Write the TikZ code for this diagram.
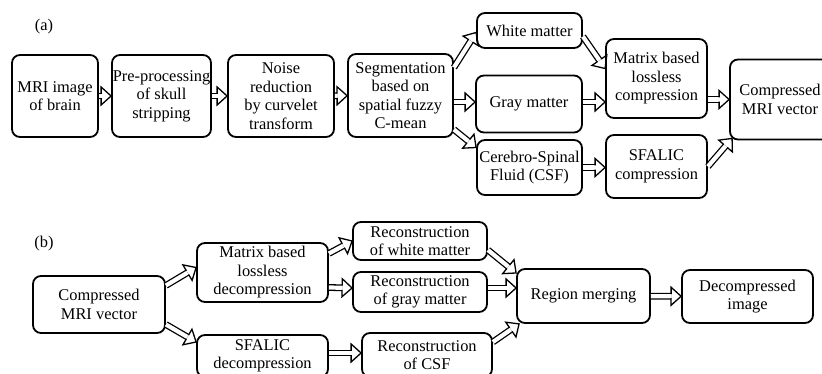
\documentclass[tikz,border=0pt]{standalone}
\usepackage{fontspec}
\setmainfont{Liberation Serif}
\usetikzlibrary{decorations.markings}
\tikzset{
    RB/.style ={rectangle,rounded corners=8pt,draw,line width=1.8pt,align=center,inner sep=0pt,font=\fontsize{16.4}{18.5}\selectfont},
    DA/.style ={draw,line width=6.8pt,shorten >=10pt,
        postaction={draw=white,line width=4.2pt,shorten >=10pt},
        postaction={decorate,decoration={markings,mark=at position 1 with
            {\draw[line width=1.3pt,line join=miter,shorten >=0pt,shorten <=0pt]
                (-10pt,2.2pt) -- (-10pt,9pt) -- (0pt,0pt) -- (-10pt,-9pt) -- (-10pt,-2.2pt);}}}},
    LB/.style ={font=\fontsize{16.4}{18.5}\selectfont}}

\begin{document}
\begin{tikzpicture}[x=1pt,y=-1pt]
        \useasboundingbox (0,0) rectangle (822,374);
        % (a)
        \node(la) [LB] at (44,27) {(a)};
        \node(1)  [RB,minimum width=86pt,minimum height=82pt] at (55,96) {MRI image\\of brain};
        \node(2)  [RB,minimum width=99pt,minimum height=82pt] at (161.5,96) {Pre-processing\\of skull\\stripping};
        \node(3)  [RB,minimum width=106pt,minimum height=82pt] at (281,96) {Noise\\reduction\\by curvelet\\transform};
        \node(4)  [RB,minimum width=105pt,minimum height=83pt] at (400.5,95.5) {Segmentation\\based on\\spatial fuzzy\\C-mean};
        \node(5)  [RB,minimum width=105pt,minimum height=35pt] at (529.5,30.5) {White matter};
        \node(6)  [RB,minimum width=106pt,minimum height=57pt] at (529,104) {Gray matter};
        \node(7)  [RB,minimum width=105pt,minimum height=55pt] at (529.5,167.5) {Cerebro-Spinal\\Fluid (CSF)};
        \node(8)  [RB,minimum width=101pt,minimum height=79pt] at (656.5,78.5) {Matrix based\\lossless\\compression};
        \node(9)  [RB,minimum width=101pt,minimum height=63pt] at (656.5,166.5) {SFALIC\\compression};
        \node(10) [RB,minimum width=100pt,minimum height=80pt] at (780,99.5) {Compressed\\MRI vector};
        \path [DA] (1) -- (2);
        \path [DA] (2) -- (3);
        \path [DA] (3) -- (4);
        \path [DA] ([yshift=28pt]4.east) -- ([yshift=-2pt]5.west);
        \path [DA] ([yshift=2pt]4.east |- 6.west) -- ([yshift=2pt]6.west);
        \path [DA] ([yshift=-34pt]4.east) -- ([yshift=20pt]7.west);
        \path [DA] ([yshift=-6pt]5.east) -- ([yshift=10pt]8.west);
        \path [DA] ([yshift=2pt]6.east) -- ([yshift=2pt]6.east -| 8.west);
        \path [DA] (7.east) -- (7.east -| 9.west);
        \path [DA] (8.east |- 10.west) -- (10.west);
        \path [DA] (9.east) -- ([xshift=3pt,yshift=2pt]10.south west);
        % (b)
        \node(lb) [LB] at (44,244) {(b)};
        \node(11) [RB,minimum width=132pt,minimum height=57pt] at (99,304.5) {Compressed\\MRI vector};
        \node(12) [RB,minimum width=131pt,minimum height=59pt] at (262.5,272.5) {Matrix based\\lossless\\decompression};
        \node(13) [RB,minimum width=131pt,minimum height=42pt] at (262.5,356) {SFALIC\\decompression};
        \node(14) [RB,minimum width=134pt,minimum height=38pt] at (420,241) {Reconstruction\\of white matter};
        \node(15) [RB,minimum width=134pt,minimum height=40pt] at (420,292) {Reconstruction\\of gray matter};
        \node(16) [RB,minimum width=130pt,minimum height=44pt] at (427,355) {Reconstruction\\of CSF};
        \node(17) [RB,minimum width=133pt,minimum height=54pt] at (583.5,296) {Region merging};
        \node(18) [RB,minimum width=131pt,minimum height=53pt] at (747.5,296.5) {Decompressed\\image};
        \path [DA] ([yshift=19pt]11.east) -- ([yshift=5pt]12.west);
        \path [DA] ([yshift=-20pt]11.east) -- ([yshift=14pt]13.west);
        \path [DA] ([yshift=19pt]12.east) -- (14.west);
        \path [DA] ([yshift=-15pt]12.east) -- ([yshift=4pt]15.west);
        \path [DA] ([yshift=3pt]13.east) -- ([yshift=3pt]13.east -| 16.west);
        \path [DA] ([yshift=-9pt]14.east) -- ([yshift=23pt]17.west);
        \path [DA] ([yshift=4pt]15.east) -- ([yshift=8pt]17.west);
        \path [DA] ([yshift=13pt]16.east) -- ([xshift=3pt]17.south west);
        \path [DA] (17) -- (18);
    \end{tikzpicture}
\end{document}
